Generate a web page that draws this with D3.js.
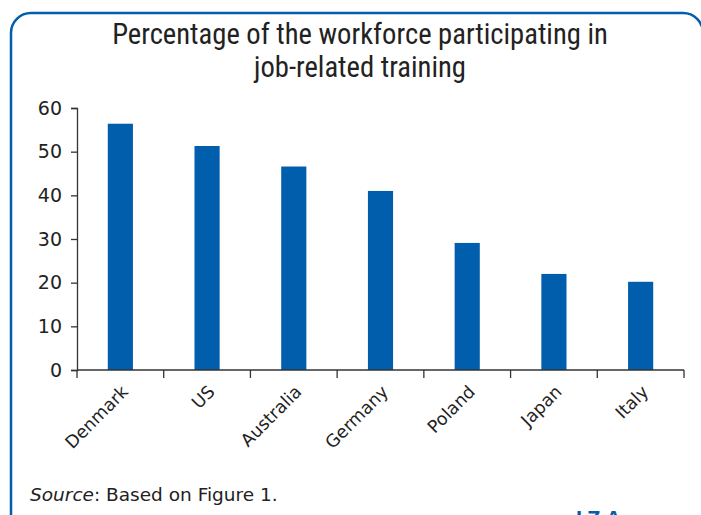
<!DOCTYPE html>
<html>
<head>
<meta charset="utf-8">
<script src="https://cdn.jsdelivr.net/npm/d3@7"></script>
<style>
  body { margin: 0; background: #fff; }
  svg { display: block; }
</style>
</head>
<body>
<div id="chart"></div>
<script>
const countries = ["Denmark", "US", "Australia", "Germany", "Poland", "Japan", "Italy"];
const shares = [56.4, 51.3, 46.6, 41.0, 29.1, 22.0, 20.2];
const yTicks = [0, 10, 20, 30, 40, 50, 60];

const width = 701;
const height = 515;
const margin = { top: 108, right: 17, bottom: 145, left: 77 };
const blue = "#005eac";
const narrow = "'Liberation Sans Narrow', 'Roboto Condensed', 'Arial Narrow', sans-serif";

const svg = d3.select("#chart").append("svg")
  .attr("width", width)
  .attr("height", height);

// frame (right and bottom edges run off the picture)
svg.append("rect")
  .attr("x", 11)
  .attr("y", 13)
  .attr("width", 692)
  .attr("height", 530)
  .attr("rx", 20)
  .attr("fill", "none")
  .attr("stroke", blue)
  .attr("stroke-width", 2.5);

// title
svg.append("text")
  .attr("text-anchor", "middle")
  .style("font-family", narrow)
  .style("font-size", "28.6px")
  .style("fill", "#222")
  .selectAll("tspan")
  .data(["Percentage of the workforce participating in", "job-related training"])
  .join("tspan")
  .attr("x", 360)
  .attr("y", (d, i) => 44 + i * 33)
  .text(d => d);

const x = d3.scaleBand()
  .domain(countries)
  .range([margin.left, width - margin.right])
  .paddingInner(0.71)
  .paddingOuter(0.355);

const y = d3.scaleLinear()
  .domain([0, 60])
  .range([height - margin.bottom, margin.top]);

svg.append("g")
  .selectAll("rect")
  .data(countries)
  .join("rect")
  .attr("x", d => x(d))
  .attr("y", (d, i) => y(shares[i]))
  .attr("width", x.bandwidth())
  .attr("height", (d, i) => y(0) - y(shares[i]))
  .attr("fill", blue);

// y axis
const yAxis = svg.append("g")
  .attr("transform", `translate(${margin.left},0)`)
  .call(d3.axisLeft(y).tickValues(yTicks).tickSize(6).tickPadding(9));

yAxis.select(".domain").attr("stroke", "#333").attr("stroke-width", 1.3);
yAxis.selectAll(".tick line").attr("stroke", "#333").attr("stroke-width", 1.3);
yAxis.selectAll(".tick text")
  .style("font-family", "'DejaVu Sans', sans-serif")
  .style("font-size", "19px")
  .style("fill", "#222");

// x axis - ticks at band edges
const edges = countries.map(d => x(d) - x.step() * x.paddingInner() / 2)
  .concat([width - margin.right]);
const xAxis = svg.append("g")
  .attr("transform", `translate(0,${y(0)})`);
xAxis.append("line")
  .attr("x1", margin.left).attr("x2", width - margin.right)
  .attr("stroke", "#333").attr("stroke-width", 1.3);
xAxis.selectAll("line.tick")
  .data(edges)
  .join("line")
  .attr("class", "tick")
  .attr("x1", d => d).attr("x2", d => d)
  .attr("y1", 0).attr("y2", 8)
  .attr("stroke", "#333").attr("stroke-width", 1.3);

xAxis.selectAll("text")
  .data(countries)
  .join("text")
  .attr("transform", d => `translate(${x(d) + x.bandwidth() / 2 - 1},13) rotate(-45)`)
  .attr("text-anchor", "end")
  .attr("dy", "0.8em")
  .style("font-family", "'DejaVu Sans', sans-serif")
  .style("font-size", "17.5px")
  .style("fill", "#222")
  .text(d => d);

// source
const src = svg.append("text")
  .attr("x", 30)
  .attr("y", 501)
  .style("font-family", "'DejaVu Sans', sans-serif")
  .style("font-size", "18.5px")
  .style("fill", "#222");
src.append("tspan").style("font-style", "italic").text("Source");
src.append("tspan").text(": Based on Figure 1.");

// logo, cut off at the bottom as in the original
svg.append("text")
  .attr("x", 576)
  .attr("y", 526)
  .style("font-family", "'Liberation Sans', sans-serif")
  .style("font-weight", "bold")
  .style("font-size", "22px")
  .style("letter-spacing", "5px")
  .style("fill", blue)
  .text("IZA");
</script>
</body>
</html>
